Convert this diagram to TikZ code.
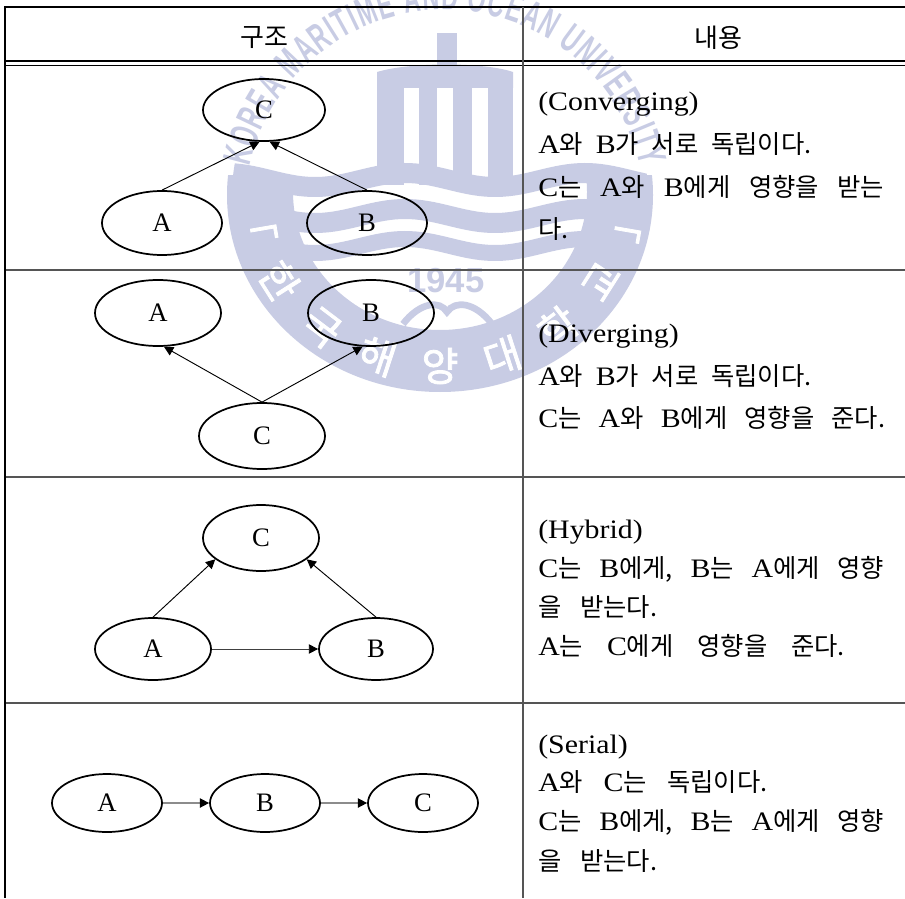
\documentclass[tikz,border=0pt]{standalone}
\usepackage{fontspec}
\setmainfont{Liberation Serif}
\newfontfamily\kr{Noto Sans CJK KR}
\newfontfamily\lat{Liberation Serif}[FakeStretch=1.12]
\newfontfamily\wmlat{Liberation Sans}[FakeStretch=0.58]
\newfontfamily\wmsans{Liberation Sans}
\newfontfamily\wmkr{Noto Sans CJK KR}[FakeBold=2]
\usetikzlibrary{arrows.meta,shapes.geometric,decorations.text}
\definecolor{wm}{RGB}{200,204,228}
\definecolor{rulegray}{RGB}{85,85,85}
\newcommand\K[1]{{\kr\fontsize{19}{24}\selectfont #1}}
\newcommand\wl[2]{\makebox[#1][l]{#2}}
\begin{document}
\begin{tikzpicture}[x=0.75pt,y=0.75pt,
  ell/.style 2 args={ellipse, draw=black, line width=1.3pt, inner sep=0pt,
     minimum width=#1*1.5pt, minimum height=#2*1.5pt, font=\fontsize{20}{20}\selectfont},
  arr/.style={line width=0.7pt, -{Triangle[length=7pt,width=7pt,color=black]}},
  arrg/.style={arr, draw=black!45, line width=1.1pt},
  txt/.style={anchor=base west, inner sep=0pt, font=\lat\fontsize{20}{24}\selectfont},
  hd/.style={inner sep=0pt, font=\kr\fontsize{19.5}{24}\selectfont},
  hline/.style={draw=rulegray, line width=1pt}]
\useasboundingbox (0,0) rectangle (905,-898);
\clip (0,0) rectangle (905,-898);
\fill[white] (0,0) rectangle (905,-898);

% ---------- watermark ----------
\begin{scope}[color=wm]
  % tower
  \fill (437,-33) rectangle (457,-70);
  \fill (377,-88) -- (377,-72) .. controls (410,-62) and (484,-62) .. (513,-72) -- (513,-88) -- cycle;
  \fill (377,-86) rectangle (404,-185);
  \fill (419,-86) rectangle (437,-185);
  \fill (453,-86) rectangle (472,-185);
  \fill (488,-86) rectangle (513,-185);
  % waves
  \begin{scope}
    \clip (440,-195) ellipse [x radius=208, y radius=192];
    \foreach \yy/\ww in {180/15,216/15,246/12}
      \draw[line width=\ww pt] plot[domain=225:655, samples=80] (\x,{-\yy+7*sin(2*\x)});
  \end{scope}
  % lower crescent
  \begin{scope}
    \clip (200,-176) rectangle (680,-400);
    \fill[even odd rule] (440,-195) ellipse [x radius=213, y radius=197]
                         (440,-192) ellipse [x radius=147, y radius=138];
  \end{scope}
  % seagull
  \draw[line width=5pt] (403,-324) .. controls (420,-302) and (440,-300) .. (447,-312)
     .. controls (455,-300) and (475,-302) .. (492,-324);
\end{scope}
\node[font=\wmsans\bfseries\fontsize{26}{26}\selectfont, text=wm, inner sep=0pt] (yr) at (446,-281) {1945};
\path[decorate, decoration={text along path, text align={fit to path},
   text={|\wmlat\bfseries\fontsize{30}{30}\selectfont\color{wm}|KOREA MARITIME AND OCEAN UNIVERSITY}}]
   (445,-210) ++(167.5:200) arc[start angle=167.5, end angle=12.5, radius=200];
\path[decorate, decoration={text along path, text align={fit to path},
   text={|\wmkr\fontsize{30}{30}\selectfont\color{white}|「한국해양대학교」}}]
   (440,-195) ++(183:201 and 186) arc[start angle=183, end angle=357, x radius=201, y radius=186];

% ---------- table ----------
\draw[line width=1.2pt] (5,-7) -- (905,-7);
\draw[line width=1pt] (5,-61) -- (905,-61);
\draw[line width=1pt] (5,-65.5) -- (905,-65.5);
\draw[hline] (5,-270) -- (905,-270);
\draw[hline] (5,-477) -- (905,-477);
\draw[hline] (5,-703) -- (905,-703);
\draw[line width=1.1pt] (5,-6.4) -- (5,-898);
\draw[draw=rulegray, line width=0.9pt] (523,-7) -- (523,-898);

\node[hd] (h1) at (264,-38) {구조};
\node[hd] (h2) at (718,-38) {내용};

% ---------- row 1: converging ----------
\node[ell={61}{31}] (c1) at (264,-110) {C};
\node[ell={60}{32}] (a1) at (162,-223) {A};
\node[ell={60}{32}] (b1) at (367,-223) {B};
\draw[arr] (a1.north) -- (c1.262);
\draw[arr] (b1.north) -- (c1.280);
\node[txt] (t11) at (538,-111) {(Converging)};
\node[txt] (t12) at (538,-154) {\wl{205pt}{A\K{와}\hfill B\K{가}\hfill\K{서로}\hfill\K{독립이다.}}};
\node[txt] (t13) at (538,-197) {\wl{259.5pt}{C\K{는}\hfill A\K{와}\hfill B\K{에게}\hfill\K{영향을}\hfill\K{받는}}};
\node[txt] (t14) at (538,-239) {\K{다.}};

% ---------- row 2: diverging ----------
\node[ell={63}{33}] (a2) at (158,-313) {A};
\node[ell={63}{33}] (b2) at (371,-313) {B};
\node[ell={63}{33}] (c2) at (262,-436) {C};
\draw[arr] (c2.north) -- (a2.280);
\draw[arr] (c2.north) -- (b2.256);
\node[txt] (t21) at (538,-342) {(Diverging)};
\node[txt] (t22) at (538,-385) {\wl{205pt}{A\K{와}\hfill B\K{가}\hfill\K{서로}\hfill\K{독립이다.}}};
\node[txt] (t23) at (538,-427) {\wl{260.25pt}{C\K{는}\hfill A\K{와}\hfill B\K{에게}\hfill\K{영향을}\hfill\K{준다.}}};

% ---------- row 3: hybrid ----------
\node[ell={58}{33}] (c3) at (261,-538) {C};
\node[ell={58}{31}] (a3) at (153,-649) {A};
\node[ell={57}{31}] (b3) at (376,-649) {B};
\draw[arr] (a3.north) -- (c3.205);
\draw[arr] (b3.north) -- (c3.335);
\draw[arr, draw=black!75] (a3.east) -- (b3.west);
\node[txt] (t31) at (538,-538) {(Hybrid)};
\node[txt] (t32) at (538,-577) {\wl{259.5pt}{C\K{는}\hfill B\K{에게,}\hfill B\K{는}\hfill A\K{에게}\hfill\K{영향}}};
\node[txt] (t33) at (538,-616) {\wl{89.25pt}{\K{을}\hfill\K{받는다.}}};
\node[txt] (t34) at (538,-655) {\wl{230pt}{A\K{는}\hfill C\K{에게}\hfill\K{영향을}\hfill\K{준다.}}};

% ---------- row 4: serial ----------
\node[ell={55}{29}] (a4) at (107,-803) {A};
\node[ell={55}{29}] (b4) at (265,-803) {B};
\node[ell={55}{29}] (c4) at (423,-803) {C};
\draw[arrg] (a4.east) -- (b4.west);
\draw[arrg] (b4.east) -- (c4.west);
\node[txt] (t41) at (538,-753) {(Serial)};
\node[txt] (t42) at (538,-791) {\wl{172pt}{A\K{와}\hfill C\K{는}\hfill\K{독립이다.}}};
\node[txt] (t43) at (538,-830) {\wl{259.5pt}{C\K{는}\hfill B\K{에게,}\hfill B\K{는}\hfill A\K{에게}\hfill\K{영향}}};
\node[txt] (t44) at (538,-870) {\wl{89.25pt}{\K{을}\hfill\K{받는다.}}};
\end{tikzpicture}
\end{document}
